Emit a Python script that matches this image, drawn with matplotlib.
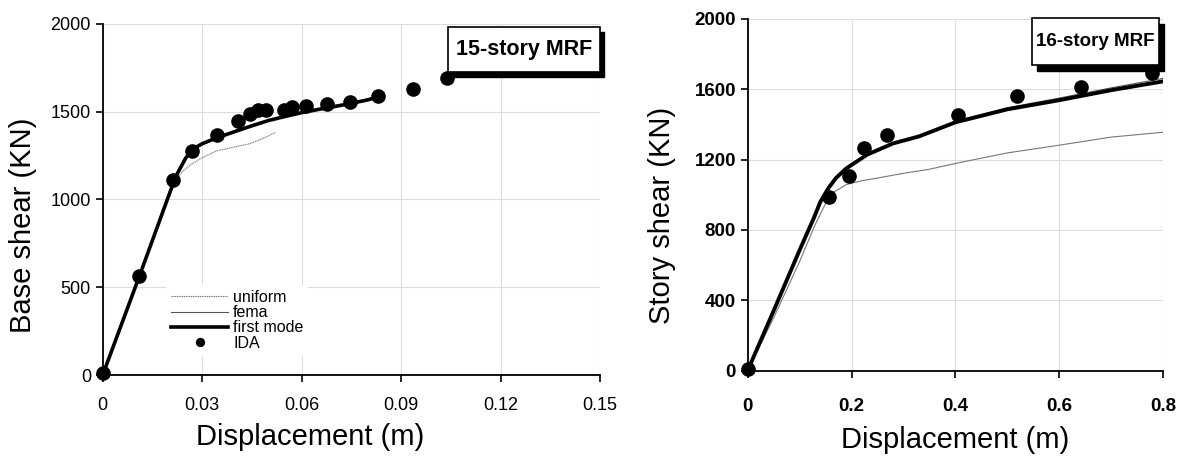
import matplotlib.pyplot as plt
from matplotlib.patches import Rectangle
import numpy as np

# 15-story MRF (left panel)
d15_first = [0, 0.011, 0.022, 0.025, 0.027, 0.030, 0.0345, 0.040, 0.045, 0.050, 0.055, 0.060, 0.065, 0.070, 0.075, 0.080, 0.083]
v15_first = [0, 560, 1130, 1235, 1285, 1318, 1352, 1388, 1420, 1450, 1473, 1495, 1513, 1530, 1548, 1568, 1585]
d15_fema = [0, 0.011, 0.022, 0.025, 0.027, 0.030, 0.0345, 0.040, 0.045, 0.050, 0.055, 0.060, 0.065, 0.070, 0.075, 0.080, 0.085]
v15_fema = [0, 556, 1125, 1228, 1280, 1312, 1348, 1385, 1418, 1448, 1472, 1496, 1516, 1535, 1553, 1572, 1595]
d15_unif = [0, 0.011, 0.021, 0.024, 0.027, 0.030, 0.0345, 0.040, 0.0444, 0.048, 0.052]
v15_unif = [0, 550, 1080, 1160, 1204, 1238, 1278, 1300, 1318, 1345, 1381]
d15_ida = [0, 0.011, 0.0213, 0.0268, 0.0344, 0.0407, 0.0444, 0.0469, 0.0492, 0.0547, 0.057, 0.0613, 0.0678, 0.0746, 0.0831, 0.0935, 0.104]
v15_ida = [10, 565, 1112, 1274, 1369, 1449, 1490, 1510, 1510, 1510, 1528, 1534, 1544, 1553, 1587, 1629, 1690]

# 16-story MRF (right panel)
d16_first = [0, 0.05, 0.10, 0.127, 0.14, 0.156, 0.17, 0.19, 0.23, 0.28, 0.33, 0.40, 0.50, 0.60, 0.70, 0.80, 0.82]
v16_first = [0, 340, 685, 865, 960, 1040, 1095, 1150, 1228, 1292, 1332, 1412, 1486, 1538, 1595, 1645, 1652]
d16_fema = [0, 0.05, 0.10, 0.127, 0.14, 0.156, 0.17, 0.19, 0.23, 0.28, 0.33, 0.40, 0.50, 0.60, 0.70, 0.80, 0.82]
v16_fema = [0, 335, 680, 860, 955, 1035, 1090, 1146, 1225, 1290, 1333, 1418, 1495, 1550, 1608, 1662, 1674]
d16_unif = [0, 0.05, 0.10, 0.13, 0.15, 0.166, 0.19, 0.22, 0.25, 0.30, 0.35, 0.40, 0.50, 0.60, 0.70, 0.82]
v16_unif = [0, 300, 620, 830, 950, 1015, 1058, 1080, 1095, 1122, 1145, 1178, 1238, 1282, 1328, 1361]
d16_ida = [0, 0.156, 0.195, 0.224, 0.269, 0.405, 0.518, 0.643, 0.779]
v16_ida = [10, 987, 1104, 1266, 1342, 1456, 1560, 1614, 1693]

W, H = 1185, 468
fig = plt.figure(figsize=(W / 100, H / 100), dpi=100)

ax1 = fig.add_axes([102.7 / W, (H - 375) / H, 497.3 / W, 351 / H])
ax2 = fig.add_axes([747.7 / W, (H - 370.5) / H, 415.3 / W, 351.5 / H])

font = ['Liberation Sans']


def style_axes(ax):
    for s in ['top', 'right']:
        ax.spines[s].set_visible(False)
    for s in ['left', 'bottom']:
        ax.spines[s].set_linewidth(1.3)
    ax.grid(True, color='#dddddd', lw=0.8)
    ax.set_axisbelow(True)
    ax.tick_params(direction='out', length=5, width=1.2)


def add_box(ax, text, x0, x1, y0, y1, dx, dy, size):
    sh = Rectangle((x0 + dx, y0 - dy), x1 - x0, y1 - y0, transform=ax.transAxes,
                   fc='black', ec='black', clip_on=False, zorder=6)
    bx = Rectangle((x0, y0), x1 - x0, y1 - y0, transform=ax.transAxes,
                   fc='white', ec='black', lw=1.2, clip_on=False, zorder=7)
    ax.add_patch(sh)
    ax.add_patch(bx)
    ax.text((x0 + x1) / 2, (y0 + y1) / 2, text, transform=ax.transAxes, ha='center', va='center',
            fontsize=size, fontweight='bold', family=font, zorder=8)


# left panel
style_axes(ax1)
ax1.plot(d15_unif, v15_unif, color='#777777', lw=0.8, ls=(0, (1, 0.6)), label='uniform')
ax1.plot(d15_fema, v15_fema, color='#555555', lw=0.8, label='fema')
ax1.plot(d15_first, v15_first, color='black', lw=2.6, label='first mode')
ax1.plot(d15_ida, v15_ida, 'o', color='black', ms=9.5, clip_on=False, label='IDA', zorder=5)
ax1.set_xlim(0, 0.15)
ax1.set_ylim(0, 2000)
ax1.set_xticks([0, 0.03, 0.06, 0.09, 0.12, 0.15])
ax1.set_xticklabels(['0', '0.03', '0.06', '0.09', '0.12', '0.15'])
ax1.set_yticks([0, 500, 1000, 1500, 2000])
for lb in ax1.get_xticklabels() + ax1.get_yticklabels():
    lb.set_family(font)
    lb.set_fontsize(13)
ax1.tick_params(axis='x', pad=11)
ax1.set_xlabel('Displacement (m)', fontsize=21, family=font)
ax1.set_ylabel('Base shear (KN)', fontsize=21, family=font)
ax1.xaxis.set_label_coords((310 - 102.7) / 497.3, (375 - 423) / 351)
ax1.yaxis.set_label_coords((37 - 102.7) / 497.3, (375 - 225) / 351)
leg = ax1.legend(loc='upper left', bbox_to_anchor=((166 - 102.7) / 497.3, (375 - 285) / 351),
                 frameon=True, fancybox=False, edgecolor='none', framealpha=1,
                 prop={'family': font, 'size': 11.5}, handlelength=3.6, handletextpad=0.3,
                 labelspacing=0.02, borderpad=0.3, markerscale=0.6, borderaxespad=0)
add_box(ax1, '15-story MRF', 0.694, 1.0, 0.863, 0.991, 0.008, 0.014, 15.5)

# right panel
style_axes(ax2)
ax2.plot(d16_unif, v16_unif, color='#777777', lw=0.8)
ax2.plot(d16_fema, v16_fema, color='#555555', lw=0.8)
ax2.plot(d16_first, v16_first, color='black', lw=2.8)
ax2.plot(d16_ida, v16_ida, 'o', color='black', ms=9.5, clip_on=False, zorder=5)
ax2.set_xlim(0, 0.8)
ax2.set_ylim(0, 2000)
ax2.set_xticks([0, 0.2, 0.4, 0.6, 0.8])
ax2.set_xticklabels(['0', '0.2', '0.4', '0.6', '0.8'])
ax2.set_yticks([0, 400, 800, 1200, 1600, 2000])
for lb in ax2.get_xticklabels() + ax2.get_yticklabels():
    lb.set_family(font)
    lb.set_fontsize(13.5)
    lb.set_fontweight('bold')
ax2.tick_params(axis='x', pad=15)
ax2.set_xlabel('Displacement (m)', fontsize=21, family=font)
ax2.set_ylabel('Story shear (KN)', fontsize=21, family=font)
ax2.xaxis.set_label_coords(0.5, (370.5 - 426) / 351.5)
ax2.yaxis.set_label_coords((676 - 747.7) / 415.3, (370.5 - 215) / 351.5)
add_box(ax2, '16-story MRF', 0.6846, 0.990, 0.869, 1.003, 0.012, 0.017, 13.5)

fig.savefig('out.png', dpi=100)
